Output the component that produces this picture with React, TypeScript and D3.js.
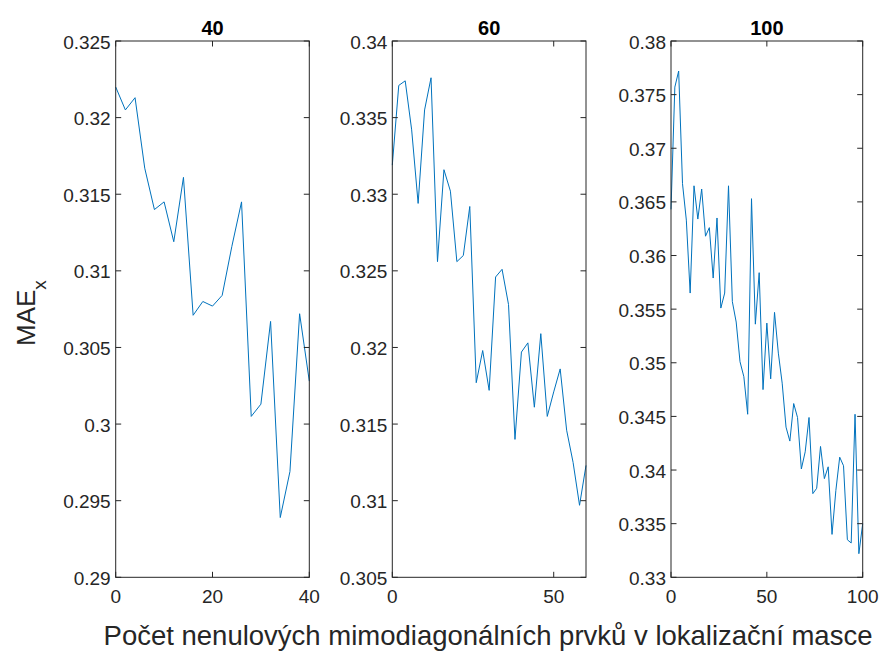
import React from "react";
import * as d3 from "d3";

// Number of non-zero off-diagonal elements in the localization mask
const x40 = [0, 2, 4, 6, 8, 10, 12, 14, 16, 18, 20, 22, 24, 26, 28, 30, 32, 34, 36, 38, 40];
const mae40 = [0.3220, 0.3205, 0.3213, 0.3167, 0.3140, 0.3145, 0.3119, 0.3161, 0.3071, 0.3080, 0.3077,
  0.3084, 0.3116, 0.3145, 0.3005, 0.3013, 0.3067, 0.2939, 0.2969, 0.3072, 0.3028];

const x60 = [0, 2, 4, 6, 8, 10, 12, 14, 16, 18, 20, 22, 24, 26, 28, 30, 32, 34, 36, 38, 40, 42, 44, 46,
  48, 50, 52, 54, 56, 58, 60];
const mae60 = [0.3319, 0.3371, 0.3374, 0.3342, 0.3294, 0.3355, 0.3376, 0.3256, 0.3316, 0.3302, 0.3256,
  0.3260, 0.3292, 0.3177, 0.3198, 0.3172, 0.3246, 0.3251, 0.3228, 0.3140, 0.3197, 0.3203, 0.3161,
  0.3209, 0.3155, 0.3171, 0.3186, 0.3146, 0.3125, 0.3097, 0.3123];

const x100 = [0, 2, 4, 6, 8, 10, 12, 14, 16, 18, 20, 22, 24, 26, 28, 30, 32, 34, 36, 38, 40, 42, 44, 46,
  48, 50, 52, 54, 56, 58, 60, 62, 64, 66, 68, 70, 72, 74, 76, 78, 80, 82, 84, 86, 88, 90, 92, 94, 96,
  98, 100];
const mae100 = [0.3643, 0.3757, 0.3772, 0.3667, 0.3633, 0.3565, 0.3665, 0.3634, 0.3662, 0.3618, 0.3626,
  0.3579, 0.3635, 0.3551, 0.3565, 0.3665, 0.3557, 0.3538, 0.3501, 0.3487, 0.3452, 0.3653, 0.3536,
  0.3584, 0.3475, 0.3537, 0.3485, 0.3547, 0.3509, 0.3481, 0.3440, 0.3427, 0.3462, 0.3449, 0.3401,
  0.3417, 0.3449, 0.3378, 0.3383, 0.3422, 0.3392, 0.3403, 0.3340, 0.3381, 0.3412, 0.3404, 0.3335,
  0.3332, 0.3452, 0.3322, 0.3350];

const titles = ["40", "60", "100"];
const xDomains: [number, number][] = [[0, 40], [0, 60], [0, 100]];
const yDomains: [number, number][] = [[0.29, 0.325], [0.305, 0.34], [0.33, 0.38]];
const xTicks = [[0, 20, 40], [0, 50], [0, 50, 100]];
const yTicks = [
  [0.29, 0.295, 0.3, 0.305, 0.31, 0.315, 0.32, 0.325],
  [0.305, 0.31, 0.315, 0.32, 0.325, 0.33, 0.335, 0.34],
  [0.33, 0.335, 0.34, 0.345, 0.35, 0.355, 0.36, 0.365, 0.37, 0.375, 0.38],
];
const yTickLabels = [
  ["0.29", "0.295", "0.3", "0.305", "0.31", "0.315", "0.32", "0.325"],
  ["0.305", "0.31", "0.315", "0.32", "0.325", "0.33", "0.335", "0.34"],
  ["0.33", "0.335", "0.34", "0.345", "0.35", "0.355", "0.36", "0.365", "0.37", "0.375", "0.38"],
];
const seriesX = [x40, x60, x100];
const seriesY = [mae40, mae60, mae100];

const W = 881;
const H = 653;
const panelLeft = [115.7, 392.3, 671];
const panelRight = [309.3, 586, 862.7];
const top = 41;
const bottom = 577.3;
const tickLen = 5.5;
const axisColor = "#262626";
const lineColor = "#0072BD";
const font = "'Liberation Sans', Arial, Helvetica, sans-serif";
const tickFont = 19;

function Panel({ i }: { i: number }) {
  const x = d3.scaleLinear().domain(xDomains[i]).range([panelLeft[i], panelRight[i]]);
  const y = d3.scaleLinear().domain(yDomains[i]).range([bottom, top]);
  const pts = seriesX[i].map((v, k) => [v, seriesY[i][k]] as [number, number]);
  const line = d3.line<[number, number]>().x((d) => x(d[0])).y((d) => y(d[1]));
  const x0 = panelLeft[i];
  const x1 = panelRight[i];
  return (
    <g>
      <path d={line(pts) ?? ""} fill="none" stroke={lineColor} strokeWidth={1} strokeLinejoin="round" />
      <rect x={x0} y={top} width={x1 - x0} height={bottom - top} fill="none" stroke={axisColor} strokeWidth={1} />
      {yTicks[i].map((t, k) => (
        <g key={"y" + k}>
          <line x1={x0} x2={x0 + tickLen} y1={y(t)} y2={y(t)} stroke={axisColor} />
          <line x1={x1} x2={x1 - tickLen} y1={y(t)} y2={y(t)} stroke={axisColor} />
          <text x={x0 - 5} y={y(t) + 7.5} textAnchor="end" fontSize={tickFont} fill={axisColor} fontFamily={font}>
            {yTickLabels[i][k]}
          </text>
        </g>
      ))}
      {xTicks[i].map((t, k) => (
        <g key={"x" + k}>
          <line x1={x(t)} x2={x(t)} y1={bottom} y2={bottom - tickLen} stroke={axisColor} />
          <line x1={x(t)} x2={x(t)} y1={top} y2={top + tickLen} stroke={axisColor} />
          <text x={x(t)} y={bottom + 26} textAnchor="middle" fontSize={tickFont} fill={axisColor} fontFamily={font}>
            {t}
          </text>
        </g>
      ))}
      <text x={(x0 + x1) / 2} y={35} textAnchor="middle" fontSize={20} fontWeight="bold" fill="#000" fontFamily={font}>
        {titles[i]}
      </text>
    </g>
  );
}

export default function App() {
  return (
    <svg width={W} height={H} style={{ position: "absolute", left: 0, top: 0, background: "#fff" }}>
      <rect width={W} height={H} fill="#fff" />
      {[0, 1, 2].map((i) => (
        <Panel key={i} i={i} />
      ))}
      <text
        transform="translate(35,346) rotate(-90)"
        textAnchor="start"
        fontSize={26}
        fill={axisColor}
        fontFamily={font}
      >
        MAE
        <tspan fontSize={19} dy={11}>x</tspan>
      </text>
      <text x={488} y={645} textAnchor="middle" fontSize={27.5} fill={axisColor} fontFamily={font}>
        Počet nenulových mimodiagonálních prvků v lokalizační masce
      </text>
    </svg>
  );
}
